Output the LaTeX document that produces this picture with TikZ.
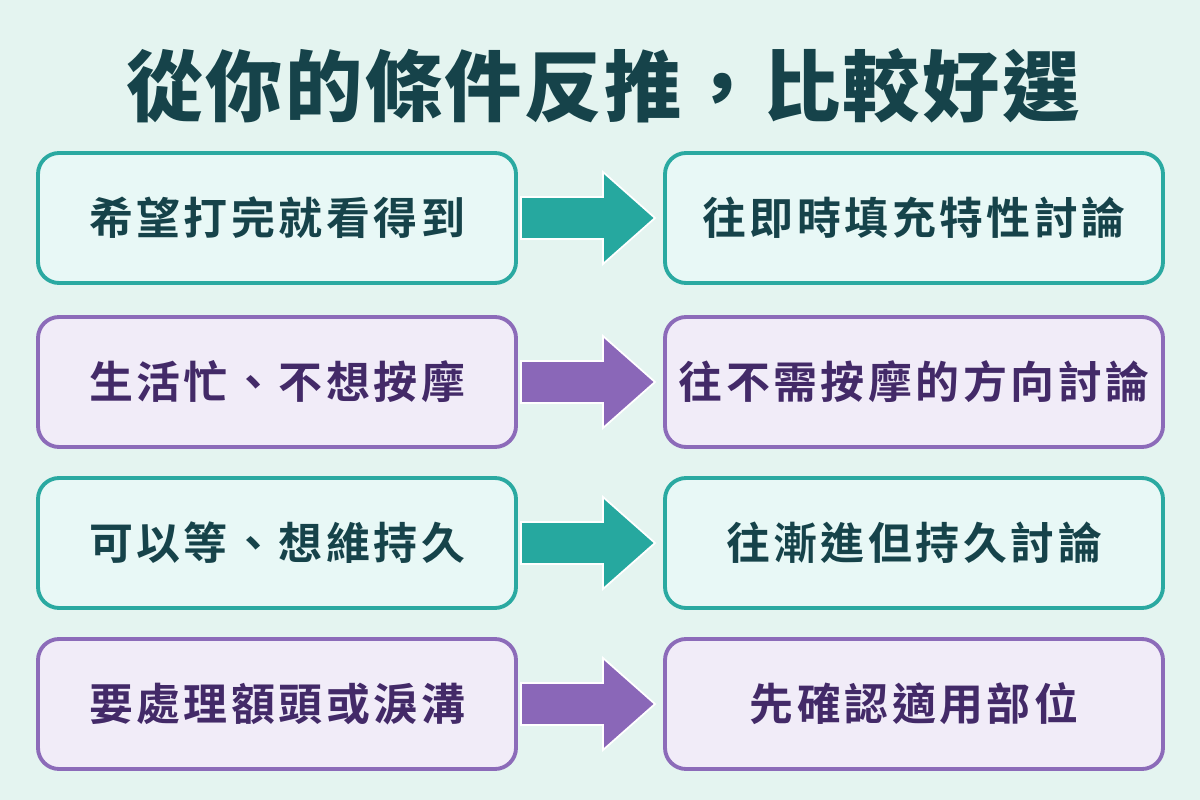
\documentclass[tikz,border=0pt]{standalone}
\usepackage{fontspec}
\newfontfamily\cjk{Noto Sans CJK TC}[BoldFont={* Bold},LetterSpace=8]
\newfontfamily\cjkt{Noto Sans CJK TC}[BoldFont={* Black},LetterSpace=3]
\begin{document}
\begin{tikzpicture}[x=0.02cm,y=-0.02cm,
 box/.style={line width=2.2pt,rounded corners=12pt,minimum height=130*0.02cm},
 tbox/.style={box,draw=tealB,fill=tealF,text=tealT},
 pbox/.style={box,draw=purB,fill=purF,text=purT},
 lbl/.style={font=\cjk\bfseries\fontsize{25}{30}\selectfont},
 tarr/.style={fill=tealA,draw=white,line width=1pt},
 parr/.style={fill=purA,draw=white,line width=1pt}]
\definecolor{bg}{HTML}{E4F4F0}
\definecolor{tealB}{HTML}{2AA9A1}\definecolor{tealF}{HTML}{E8F8F6}\definecolor{tealT}{HTML}{16434A}
\definecolor{purB}{HTML}{8C6BB9}\definecolor{purF}{HTML}{F1ECF8}\definecolor{purT}{HTML}{432A68}
\definecolor{tealA}{HTML}{26A89F}\definecolor{purA}{HTML}{8A67B8}
\fill[bg] (0,0) rectangle (1200,800);
\node[font=\cjkt\bfseries\fontsize{44}{50}\selectfont,text=tealT] (title) at (603,86) {從你的條件反推，比較好選};
\foreach \i/\y/\st/\ar/\a/\b in {1/218/tbox/tarr/希望打完就看得到/往即時填充特性討論,
 2/382/pbox/parr/生活忙、不想按摩/往不需按摩的方向討論,
 3/543/tbox/tarr/可以等、想維持久/往漸進但持久討論,
 4/704/pbox/parr/要處理額頭或淚溝/先確認適用部位}{
 \node[\st,minimum width=478*0.02cm,lbl] (L\i) at (277,\y) {\a};
 \node[\st,minimum width=498*0.02cm,lbl] (R\i) at (914,\y) {\b};
 \draw[\ar] (521,\y-21) -- (603,\y-21) -- (603,\y-46) -- (655,\y) -- (603,\y+46) -- (603,\y+21) -- (521,\y+21) -- cycle;
}
\end{tikzpicture}
\end{document}
